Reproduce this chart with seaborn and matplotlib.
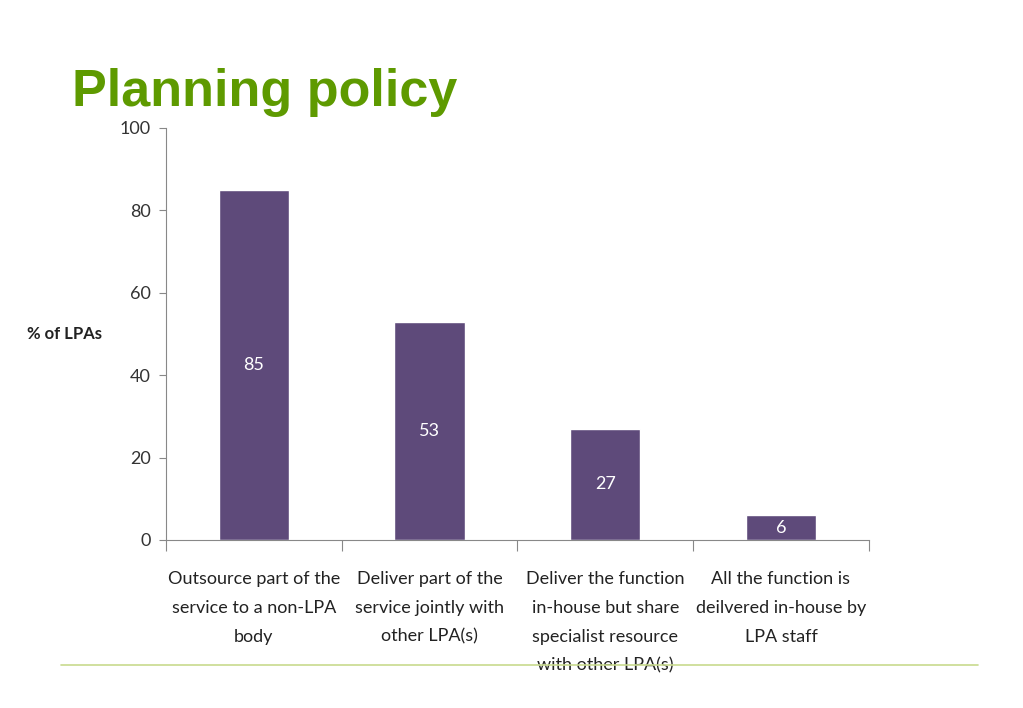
import numpy as np
import pandas as pd
import seaborn as sns
import matplotlib.pyplot as plt
from matplotlib.ticker import FixedLocator

categories = [
    "Outsource part of the\nservice to a non-LPA\nbody",
    "Deliver part of the\nservice jointly with\nother LPA(s)",
    "Deliver the function\nin-house but share\nspecialist resource\nwith other LPA(s)",
    "All the function is\ndeilvered in-house by\nLPA staff",
]
values = [85, 53, 27, 6]
yticks = [0, 20, 40, 60, 80, 100]

df = pd.DataFrame({"category": categories, "pct": values})

sns.set_style("white")
plt.rcParams["font.family"] = ["Lato", "DejaVu Sans"]

fig = plt.figure(figsize=(10.23, 7.08), dpi=100)
ax = fig.add_axes([0.1623, 0.2373, 0.687, 0.582])

sns.barplot(data=df, x="category", y="pct", color="#5E4A7A", saturation=1,
            width=0.4, ax=ax)

# value labels inside bars, centred
for i, v in enumerate(values):
    ax.text(i, v / 2, str(v), ha="center", va="center", color="white",
            fontsize=13)

ax.set_xlim(-0.5, len(categories) - 0.5)
ax.set_ylim(0, 100)
ax.set_yticks(yticks)
ax.tick_params(axis="y", labelsize=13, colors="#333333", length=5,
               width=0.8, direction="out", left=True, pad=6)
ax.tick_params(axis="y", color="#888888")

# category labels, ticks drawn between categories
ax.tick_params(axis="x", which="major", length=0, labelsize=13,
               labelcolor="#222222", pad=22)
ax.xaxis.set_minor_locator(FixedLocator(np.arange(-0.5, len(categories), 1)))
ax.tick_params(axis="x", which="minor", length=8, width=0.8,
               color="#888888", bottom=True, direction="out")
for lab in ax.get_xticklabels():
    lab.set_linespacing(2.0)

ax.set_xlabel("")
ax.set_ylabel("")
for s in ["top", "right"]:
    ax.spines[s].set_visible(False)
for s in ["left", "bottom"]:
    ax.spines[s].set_color("#888888")
    ax.spines[s].set_linewidth(0.8)

fig.text(0.026, 0.528, "% of LPAs", fontsize=12, fontweight="bold",
         color="#222222", va="center", ha="left")

fig.text(0.07, 0.869, "Planning policy", fontsize=37.5, fontweight="bold",
         color="#5E9A00", family=["Liberation Sans", "DejaVu Sans"],
         va="center", ha="left")

# thin green rule under the chart
fig.add_artist(plt.Line2D([0.06, 0.956], [0.061, 0.061],
                          transform=fig.transFigure, color="#C8DA8E",
                          linewidth=1.2))

fig.savefig("out.png", dpi=100)
